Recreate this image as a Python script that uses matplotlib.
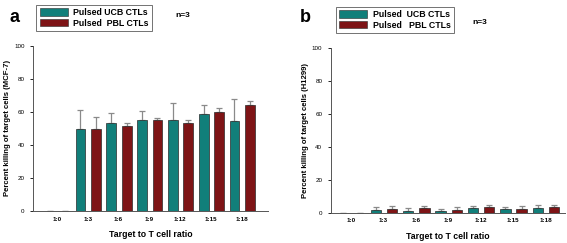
import matplotlib
matplotlib.use("Agg")
import matplotlib.pyplot as plt
import numpy as np
from matplotlib.patches import Patch

categories = ["1:0", "1:3", "1:6", "1:9", "1:12", "1:15", "1:18"]
mcf7_ucb = [0, 49.5, 53.5, 55.3, 55.0, 58.6, 54.7]
mcf7_ucb_err = [0, 11.3, 5.5, 5.3, 10.5, 5.2, 13.0]
mcf7_pbl = [0, 49.3, 51.1, 55.3, 53.5, 59.8, 64.2]
mcf7_pbl_err = [0, 7.5, 2.0, 0.7, 1.8, 2.4, 2.5]
h1299_ucb = [0, 1.6, 1.0, 0.8, 3.0, 2.0, 3.0]
h1299_ucb_err = [0, 1.7, 1.7, 1.6, 1.3, 1.4, 1.4]
h1299_pbl = [0, 2.0, 3.0, 1.6, 3.2, 2.0, 3.2]
h1299_pbl_err = [0, 1.9, 1.3, 2.0, 1.4, 2.0, 1.4]

teal = "#117f7a"
red = "#7e1416"
edge = "#2a2a2a"
errc = "#8a8a8a"

fig = plt.figure(figsize=(5.67, 2.43), dpi=100)
plt.rcParams['font.family'] = ['Liberation Sans', 'DejaVu Sans']

def panel(rect, ucb, ucb_err, pbl, pbl_err, ylabel, xlim, letter, letter_pos, leg_rect, labels, n_pos):
    ax = fig.add_axes(rect)
    x = np.arange(len(categories))
    w = 0.32
    for vals, errs, off, col in ((ucb, ucb_err, -0.24, teal), (pbl, pbl_err, 0.26, red)):
        ax.bar(x + off, vals, width=w, color=col, edgecolor=edge, linewidth=0.5, zorder=2)
        ax.errorbar(x + off, vals, yerr=[np.zeros(len(errs)), errs], fmt='none',
                    ecolor=errc, elinewidth=0.9, capsize=2.2, capthick=0.9, zorder=1)
    ax.set_xlim(*xlim)
    ax.set_ylim(0, 100)
    ax.set_yticks([0, 20, 40, 60, 80, 100])
    ax.set_xticks(x)
    ax.set_xticklabels(categories, fontsize=4.5, fontweight='bold')
    ax.tick_params(axis='x', length=0, pad=4)
    ax.tick_params(axis='y', labelsize=4.5, length=2, width=0.6, pad=4)
    for s in ('top', 'right'):
        ax.spines[s].set_visible(False)
    for s in ('left', 'bottom'):
        ax.spines[s].set_linewidth(0.7)
        ax.spines[s].set_color('#555555')
    ax.set_ylabel(ylabel, fontsize=5.6, fontweight='bold', labelpad=2)
    ax.set_xlabel("Target to T cell ratio", fontsize=6.3, fontweight='bold', labelpad=6)
    fig.text(letter_pos[0], letter_pos[1], letter, fontsize=13, fontweight='bold', ha='center', va='center')
    fig.text(n_pos[0], n_pos[1], "n=3", fontsize=6, fontweight='bold', ha='center', va='center')
    handles = [Patch(facecolor=teal, edgecolor=edge, linewidth=0.4),
               Patch(facecolor=red, edgecolor=edge, linewidth=0.4)]
    leg = fig.legend(handles, labels, loc='center', bbox_to_anchor=leg_rect,
                     frameon=True, fancybox=False, handlelength=3.2, handleheight=0.9,
                     handletextpad=0.6, borderpad=0.4, labelspacing=0.2, edgecolor='#333333',
                     prop={'weight': 'bold', 'size': 6.3})
    leg.get_frame().set_linewidth(0.6)
    return ax

panel([33/567, 1 - 211/243, (268 - 33)/567, (211 - 45.6)/243],
      mcf7_ucb, mcf7_ucb_err, mcf7_pbl, mcf7_pbl_err,
      "Percent killing of target cells (MCF-7)", (-0.78, 6.85), "a", (14/567, 1 - 17/243),
      (94/567, 1 - 18/243, 0, 0), ["Pulsed UCB CTLs", "Pulsed  PBL CTLs"], (183/567, 1 - 15/243))

panel([330.7/567, 1 - 212.7/243, (565 - 330.7)/567, (212.7 - 48.3)/243],
      h1299_ucb, h1299_ucb_err, h1299_pbl, h1299_pbl_err,
      "Percent killing of target cells (H1299)", (-0.63, 6.6), "b", (305/567, 1 - 17/243),
      (395/567, 1 - 20/243, 0, 0), ["Pulsed  UCB CTLs", "Pulsed   PBL CTLs"], (480/567, 1 - 22/243))

fig.savefig("out.png", dpi=100)
